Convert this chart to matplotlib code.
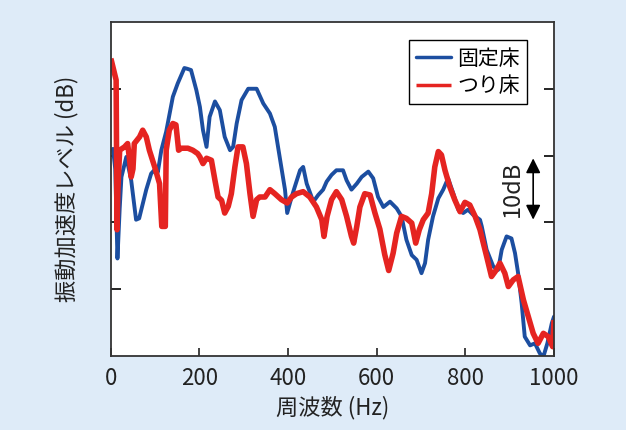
import matplotlib
matplotlib.use("Agg")
import matplotlib.pyplot as plt

plt.rcParams['font.family'] = ['Noto Sans CJK JP', 'DejaVu Sans']

# 固定床 (fixed floor)
fixed_hz = [5, 10, 15, 20, 24, 35, 46, 57, 64, 80, 91, 102, 106, 114, 125, 140, 151, 166, 172, 181,
            193, 201, 208, 216, 223, 235, 246, 257, 269, 276, 284, 295, 310, 329, 344, 359, 370, 381,
            393, 398, 408, 415, 427, 434, 442, 457, 468, 479, 487, 498, 509, 524, 532, 543, 555, 566,
            581, 592, 603, 615, 630, 645, 656, 667, 679, 690, 701, 709, 716, 727, 739, 750, 761, 773,
            784, 795, 806, 818, 833, 837, 848, 863, 874, 882, 893, 904, 912, 919, 927, 934, 946, 957,
            968, 976, 985, 995, 1000]
fixed_db = [31, 28, 14.6, 22, 26.8, 29.8, 26.3, 20.4, 20.6, 24.9, 27.3, 28.1, 27.5, 30.8, 33.6, 38.8,
            40.8, 43.1, 43.0, 42.8, 39.8, 37.3, 33.8, 31.3, 35.8, 38.1, 36.8, 32.8, 30.8, 31.3, 34.8,
            38.3, 40.0, 40.0, 37.8, 36.3, 34.3, 29.8, 24.9, 21.4, 23.8, 25.3, 27.8, 28.3, 25.8, 23.1,
            24.1, 24.9, 26.1, 27.1, 27.8, 27.8, 26.3, 24.9, 25.8, 26.8, 27.6, 26.6, 23.8, 22.3, 23.1,
            22.1, 20.9, 17.4, 15.1, 14.4, 12.4, 13.9, 17.4, 20.9, 23.6, 24.9, 26.6, 24.3, 21.9, 21.4,
            21.9, 21.1, 20.4, 19.4, 15.9, 13.4, 12.9, 15.9, 17.9, 17.6, 15.4, 12.4, 7.9, 2.9, 1.6, 1.9,
            0.4, -0.1, 1.9, 4.9, 5.9]

# つり床 (suspended floor)
hung_hz = [0, 1, 12, 14, 16, 20, 31, 38, 43, 46, 50, 53, 65, 72, 80, 87, 99, 110, 115, 123, 125, 132,
           140, 147, 153, 159, 174, 185, 196, 201, 208, 216, 227, 235, 242, 250, 257, 265, 272, 280,
           287, 298, 306, 314, 321, 329, 336, 348, 359, 370, 385, 398, 408, 419, 434, 449, 464, 476,
           481, 488, 498, 509, 521, 532, 543, 548, 555, 562, 573, 585, 596, 607, 618, 627, 637, 645,
           656, 667, 679, 688, 696, 705, 716, 724, 731, 739, 746, 754, 765, 776, 788, 799, 810, 822,
           833, 848, 859, 870, 878, 889, 897, 908, 919, 931, 942, 953, 964, 976, 987, 997, 1000]
hung_db = [44.5, 44.3, 41.3, 18.9, 25, 30.8, 31.3, 31.8, 29, 26.8, 28, 31.8, 32.8, 33.8, 32.8, 30.8,
           28.3, 25.8, 19.4, 19.4, 30.8, 33.8, 34.8, 34.6, 30.8, 31.1, 31.1, 30.8, 30.3, 29.8, 28.8,
           29.6, 29.3, 26.3, 23.8, 23.3, 21.4, 22.4, 24.3, 28.3, 31.3, 31.3, 28.8, 24.3, 20.9, 23.4,
           23.8, 23.8, 24.9, 24.3, 23.4, 22.9, 23.8, 24.3, 24.6, 23.8, 22.3, 20.4, 17.9, 20.9, 23.4,
           24.6, 23.4, 20.9, 17.9, 16.9, 19.4, 22.3, 24.3, 24.1, 21.4, 19.0, 15.2, 12.8, 15.4, 18.4,
           20.9, 20.6, 19.9, 16.9, 18.9, 20.4, 21.4, 24.3, 28.3, 30.6, 30.1, 27.8, 25.3, 23.4, 21.6,
           23.0, 22.6, 20.9, 18.9, 14.9, 11.9, 12.9, 13.9, 12.4, 10.4, 11.4, 11.9, 8.4, 5.9, 3.4, 1.9,
           3.4, 2.9, 1.4, 5.4]

xticks = [0, 200, 400, 600, 800, 1000]
yticks = [10, 20, 30, 40]

bg = '#deebf8'
fig = plt.figure(figsize=(6.26, 4.30), dpi=100, facecolor=bg)
ax = fig.add_axes([0.177, 0.172, 0.708, 0.777])

ax.plot(fixed_hz, fixed_db, color='#1c4ea0', lw=2.8, label='固定床',
        solid_joinstyle='round', solid_capstyle='round')
ax.plot(hung_hz, hung_db, color='#e52421', lw=4.0, label='つり床',
        solid_joinstyle='round', solid_capstyle='butt')

ax.set_xlim(0, 1000)
ax.set_ylim(0, 50)
ax.set_xticks(xticks)
ax.set_yticks(yticks)
ax.set_yticklabels([])
ax.tick_params(axis='x', direction='in', length=6, width=1.2, labelsize=16, pad=8, colors='#222222')
ax.tick_params(axis='y', direction='in', length=7, width=1.2, left=True, right=True)
for s in ax.spines.values():
    s.set_linewidth(1.3)
    s.set_color('#333333')

ax.set_xlabel('周波数 (Hz)', fontsize=16, labelpad=4, color='#222222')
ax.set_ylabel('振動加速度レベル (dB)', fontsize=16, labelpad=20, color='#222222')

leg = ax.legend(loc='upper right', bbox_to_anchor=(0.94, 0.945), borderaxespad=0,
                fontsize=15, fancybox=False, framealpha=1, edgecolor='black',
                handlelength=1.7, handletextpad=0.3, labelspacing=0.25, borderpad=0.35)
leg.get_frame().set_linewidth(1.0)
for h in leg.get_lines():
    h.set_linewidth(2.5)

# 10dB scale arrow
ax.annotate('', xy=(953, 30), xytext=(953, 20),
            arrowprops=dict(arrowstyle='<|-|>', color='black', lw=1.2, mutation_scale=22))
ax.text(905, 25, '10dB', rotation=90, ha='center', va='center', fontsize=17, color='#222222')

fig.savefig('out.png', dpi=100, facecolor=bg)
